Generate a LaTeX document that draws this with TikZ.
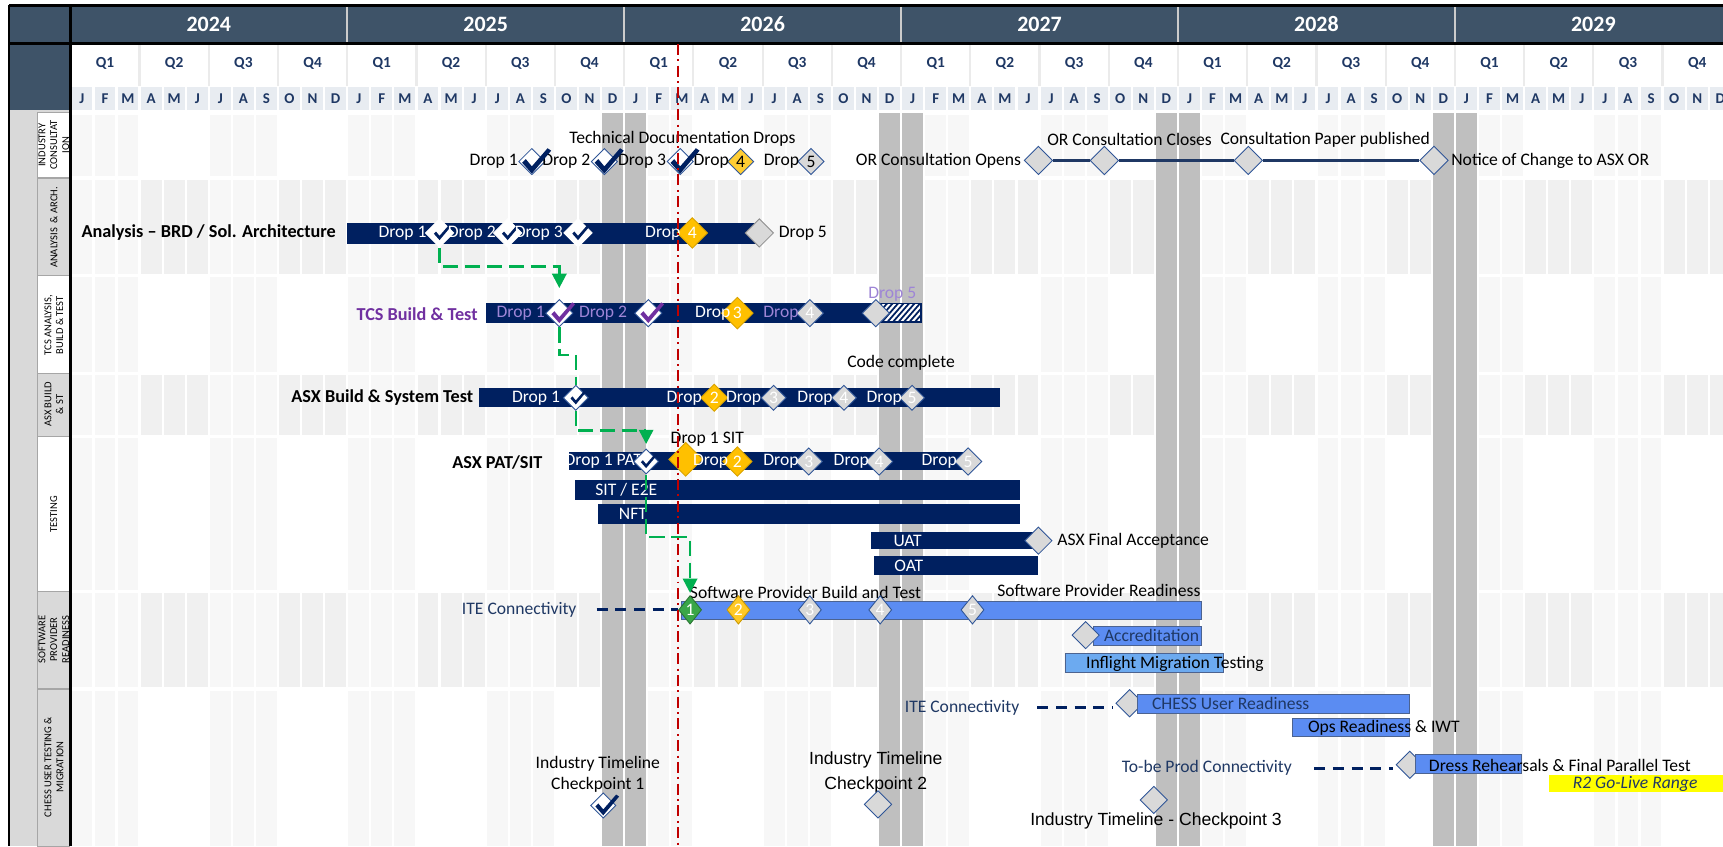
\documentclass[tikz,border=0pt]{standalone}
\usepackage{fontspec}
\setmainfont{Carlito}
\newfontfamily\arialfont{Liberation Sans}
\usetikzlibrary{positioning, arrows.meta, shapes.geometric}

\definecolor{hdrblue}{HTML}{3E5368}
\definecolor{navy}{HTML}{002060}
\definecolor{navytxt}{HTML}{1F3864}
\definecolor{mcell}{HTML}{E8ECF1}
\definecolor{gbar}{HTML}{BFBFBF}
\definecolor{lanebase}{HTML}{F7F7F7}
\definecolor{lanegrey}{HTML}{F0F0F0}
\definecolor{lblgrey}{HTML}{D9D9D9}
\definecolor{cellline}{HTML}{A6A6A6}
\definecolor{msorange}{HTML}{FFC000}
\definecolor{msgrey}{HTML}{D9D9D9}
\definecolor{msline}{HTML}{2F5597}
\definecolor{tcspurple}{HTML}{7030A0}
\definecolor{droplav}{HTML}{9E85D6}
\definecolor{linkgreen}{HTML}{00B050}
\definecolor{msgreen}{HTML}{3AA648}
\definecolor{spblue}{HTML}{5B8CF2}
\definecolor{ifblue}{HTML}{6CAAF0}
\definecolor{todayred}{HTML}{C00000}
\definecolor{golive}{HTML}{FFFF00}

% tick on a milestone: node, colour, scale
\newcommand{\tickmark}[3]{%
  \fill[#2, shift={(#1.center)}, scale=#3] (-8,1) -- (-5,-2) -- (0,4) -- (13,-11) -- (16,-9) -- (0,10) -- cycle;}

\tikzset{
  bodytxt/.style={font=\fontsize{8}{9.6}\selectfont, inner sep=1pt},
  bartxt/.style={bodytxt, text=white},
  lavtxt/.style={bodytxt, text=droplav},
  rowlbl/.style={font=\bfseries\fontsize{8.3}{9.6}\selectfont, anchor=east, inner sep=1pt},
  lanelbl/.style={font=\fontsize{4.8}{5.4}\selectfont, rotate=90, align=center, inner sep=0pt},
  yearlbl/.style={font=\bfseries\fontsize{10}{12}\selectfont, text=white},
  qlbl/.style={font=\bfseries\fontsize{7}{8}\selectfont, text=navytxt},
  mlbl/.style={font=\bfseries\fontsize{6.8}{8}\selectfont, text=navytxt},
  ms/.style={diamond, draw=msline, line width=0.4pt, inner sep=0pt, minimum size=#1, font=\fontsize{8}{9}\selectfont},
  ms/.default=11pt,
  msdone/.style={ms=#1, fill=white},
  msdone/.default=11pt,
  msnext/.style={ms=#1, fill=msorange, draw=msorange!85!black, text=white},
  msnext/.default=12pt,
  msopen/.style={ms=#1, fill=msgrey, text=white},
  msopen/.default=12pt,
  navybar/.style={fill=navy},
  bluebar/.style={fill=spblue, draw=navy!70, line width=0.4pt},
  greenlink/.style={draw=linkgreen, line width=1.1pt, dash pattern=on 7pt off 3pt},
  itelink/.style={draw=navy, line width=1.3pt, dash pattern=on 5pt off 3.5pt},
  qsep/.style={draw=black!8, line width=1pt},
}

\begin{document}
\begin{tikzpicture}[x=0.5pt, y=-0.5pt]
\useasboundingbox (0,0) rectangle (1568,770);
\clip (0,0) rectangle (1568,770);
\fill[white] (0,0) rectangle (1568,770);

% header: years
\fill[hdrblue] (8,5) rectangle (1568,39);
\fill[hdrblue] (8,5) rectangle (64,102);
\foreach \yr [count=\i from 0] in {2024,2025,2026,2027,2028,2029}
  \node[yearlbl] (yr\yr) at (190+252*\i,22) {\yr};
\foreach \i in {1,...,5}
  \draw[black!20, line width=1pt] (64+252*\i,6) -- (64+252*\i,38);

% header: quarters
\foreach \q [evaluate=\q as \qn using {int(mod(\q,4)+1)}] in {0,...,23}{
  \draw[qsep] (64+63*\q,40) -- (64+63*\q,78);
  \node[qlbl] (qtr\q) at (95.5+63*\q,58) {Q\qn};
}

% header: months
\foreach \yy in {0,...,5}{
  \foreach \m [count=\i from 0] in {J,F,M,A,M,J,J,A,S,O,N,D}{
    \pgfmathsetmacro{\mx}{64+252*\yy+21*\i}
    \fill[mcell] (\mx+1,79) rectangle (\mx+20,100);
    \node[mlbl] (mon\yy-\i) at (\mx+10.5,89.5) {\m};
  }
}
\draw[black, line width=1.5pt] (8,5) -- (1568,5);
\draw[black, line width=1.5pt] (8,39.5) -- (1568,39.5);

% swim lanes (quarters alternate)
\fill[lanebase] (64,103) rectangle (1568,770);
\foreach \ya/\yb/\col in {103/162/white, 162/251/lanegrey, 251/340/white,
    340/397/lanegrey, 397/538/white, 538/627/lanegrey, 627/770/white}
  \foreach \q in {1,3,...,23}
    \fill[\col] (64+63*\q,\ya) rectangle (127+63*\q,\yb);
\foreach \i in {0,...,72}
  \draw[white, line width=1pt] (64+21*\i,103) -- (64+21*\i,770);
\foreach \ya in {103,162,251,340,397,538,627}
  \draw[white, line width=1.5pt] (64,\ya) -- (1568,\ya);

% year-end freeze columns
\foreach \m in {23,24,35,36,47,48,59,60}
  \fill[gbar] (64+21*\m+1,103) rectangle (64+21*\m+20,770);

% lane labels
\fill[lblgrey] (8,100) rectangle (64,770);
\foreach \ya/\yb/\col in {102/162/white, 162/251/lblgrey, 251/340/white, 340/397/lblgrey,
    397/538/white, 538/627/lblgrey, 627/770/lblgrey}
  \filldraw[fill=\col, draw=cellline, line width=0.5pt] (34,\ya) rectangle (63,\yb);
\draw[black, line width=1pt] (8,5) -- (8,770);
\draw[black, line width=1.2pt] (64,5) -- (64,770);
\node[lanelbl] (ln1) at (49,132) {INDUSTRY\\CONSULTAT\\ION};
\node[lanelbl] (ln2) at (49,207) {ANALYSIS \ \& ARCH.};
\node[lanelbl] (ln3) at (49,296) {TCS ANALYSIS,\\BUILD \& TEST};
\node[lanelbl] (ln4) at (49,368) {ASX BUILD\\\& ST};
\node[lanelbl] (ln5) at (49,468) {TESTING};
\node[lanelbl] (ln6) at (49,582) {SOFTWARE\\PROVIDER\\READINESS};
\node[lanelbl] (ln7) at (49,698) {CHESS USER TESTING \&\\MIGRATION};

% industry consultation
\node[bodytxt] (tdTitle) at (621,126) {Technical Documentation Drops};
\node[msdone=12pt] (td1) at (484,147) {};
\node[msdone=12pt] (td2) at (550,147) {};
\node[msdone=12pt] (td3) at (619,147) {};
\node[msnext=12pt, draw=msline, text=black, fill=msorange!80] (td4) at (674,147) {4};
\node[msopen=12pt, text=black] (td5) at (738,147) {5};
\node[bodytxt, left=-1pt of td1] (td1l) {Drop 1};
\node[bodytxt, left=-1pt of td2] (td2l) {Drop 2};
\node[bodytxt, left=-1pt of td3] (td3l) {Drop 3};
\node[bodytxt, left=-2pt of td4] (td4l) {Drop};
\node[bodytxt, left=-2pt of td5] (td5l) {Drop};
\tickmark{td1}{navy}{1.1}
\tickmark{td2}{navy}{1.1}
\tickmark{td3}{navy}{1.1}

\node[msopen=13pt] (ocOpen) at (945,146) {};
\node[msopen=13pt] (ocClose) at (1005,146) {};
\node[msopen=13pt] (cpPub) at (1136,146) {};
\node[msopen=13pt] (ncOR) at (1305,146) {};
\draw[navytxt, line width=1.1pt] (ocOpen) -- (ocClose) -- (cpPub) -- (ncOR);
\node[bodytxt, left=0pt of ocOpen] (ocOpenl) {OR Consultation Opens};
\node[bodytxt] (ocClosel) at (1028,127) {OR Consultation Closes};
\node[bodytxt] (cpPubl) at (1206,127) {Consultation Paper published};
\node[bodytxt, right=0pt of ncOR] (ncORl) {Notice of Change to ASX OR};

% analysis & architecture
\node[rowlbl] (anLbl) at (308,212) {Analysis -- BRD / Sol. Architecture};
\fill[navybar] (316,203) rectangle (688,222);
\node[msdone=13pt, draw=white] (an1) at (400,212) {};
\node[msdone=13pt, draw=white] (an2) at (462,212) {};
\node[msdone=13pt, draw=white] (an3) at (526,212) {};
\node[msnext=14pt] (an4) at (630,212) {4};
\node[msopen=13pt, draw=black!45] (an5) at (691,212) {};
\tickmark{an1}{navy}{0.65}
\tickmark{an2}{navy}{0.65}
\tickmark{an3}{navy}{0.65}
\node[bartxt, left=-2pt of an1] (an1l) {Drop 1};
\node[bartxt, left=-2.5pt of an2] (an2l) {Drop 2};
\node[bartxt, left=-1pt of an3] (an3l) {Drop 3};
\node[bartxt, left=-3pt of an4] (an4l) {Drop};
\node[bodytxt, right=1pt of an5] (an5l) {Drop 5};

% TCS build & test
\node[rowlbl, text=tcspurple] (tcLbl) at (437,286) {TCS Build \& Test};
\fill[navybar] (442,276) rectangle (797,294);
\begin{scope}
  \clip (797,276) rectangle (838,293);
  \fill[white] (797,276) rectangle (838,293);
  \foreach \k in {0,...,13}
    \draw[navy, line width=0.8pt] (775+5*\k,296) -- (795+5*\k,273);
\end{scope}
\draw[navy, line width=0.6pt] (797,276) rectangle (838,293);
\node[msdone=12.5pt] (tc1) at (509,285) {};
\node[msdone=12.5pt] (tc2) at (590,285) {};
\node[msnext=14.5pt] (tc3) at (671,285) {3};
\node[msopen=12.5pt] (tc4) at (737,285) {4};
\node[msopen=12.5pt] (tc5) at (797,285) {};
\tickmark{tc1}{tcspurple}{0.9}
\tickmark{tc2}{tcspurple}{0.9}
\node[lavtxt, left=-1pt of tc1] (tc1l) {Drop 1};
\node[lavtxt, left=2pt of tc2] (tc2l) {Drop 2};
\node[bartxt, left=-5.5pt of tc3] (tc3l) {Drop};
\node[lavtxt, left=-2.5pt of tc4] (tc4l) {Drop};
\node[lavtxt] (tc5l) at (812,268) {Drop 5};
\node[bodytxt] (codeDone) at (820,330) {Code complete};

% ASX build & system test
\node[rowlbl] (abLbl) at (433,362) {ASX Build \& System Test};
\fill[navybar] (436,353) rectangle (910,370);
\node[msdone=11.5pt] (ab1) at (524,362) {};
\node[msnext=12.5pt] (ab2) at (650,362) {2};
\node[msopen=11.5pt] (ab3) at (704,362) {3};
\node[msopen=11.5pt] (ab4) at (768,362) {4};
\node[msopen=11.5pt] (ab5) at (830,362) {5};
\tickmark{ab1}{navy}{0.6}
\node[bartxt, left=0pt of ab1] (ab1l) {Drop 1};
\node[bartxt, left=-2pt of ab2] (ab2l) {Drop};
\node[bartxt, left=-1.5pt of ab3] (ab3l) {Drop};
\node[bartxt, left=-2pt of ab4] (ab4l) {Drop};
\node[bartxt, left=-2.5pt of ab5] (ab5l) {Drop};

% testing
\node[bodytxt, anchor=west] (sit1) at (608,400) {Drop 1 SIT};
\node[rowlbl] (ptLbl) at (496,421) {ASX PAT/SIT};
\fill[navybar] (518,411) rectangle (885,428);
\node[bartxt] (pt1l) at (549,420) {Drop 1 PAT};
\node[msdone=11.5pt] (pt1) at (588,420) {};
\node[msnext=15.5pt] (ptBig) at (624,418) {};
\node[msnext=13.5pt] (pt2) at (671,420) {2};
\node[msopen=12.5pt] (pt3) at (736,420) {3};
\node[msopen=12.5pt] (pt4) at (800,420) {4};
\node[msopen=12.5pt] (pt5) at (881,420) {5};
\tickmark{pt1}{navy}{0.6}
\node[bartxt, left=-4pt of pt2] (pt2l) {Drop};
\node[bartxt, left=-3pt of pt3] (pt3l) {Drop};
\node[bartxt, left=-3pt of pt4] (pt4l) {Drop};
\node[bartxt, left=-2.5pt of pt5] (pt5l) {Drop};

\fill[navybar] (523,437) rectangle (928,455);
\node[bartxt] (sitE2E) at (570,446) {SIT / E2E};
\fill[navybar] (544,459) rectangle (928,477);
\node[bartxt] (nft) at (576,468) {NFT};
\fill[navybar] (793,484) rectangle (940,500);
\node[bartxt] (uat) at (826,492) {UAT};
\node[msopen=12.5pt] (ua) at (945,492) {};
\node[bodytxt, right=1pt of ua] (ual) {ASX Final Acceptance};
\fill[navybar] (795,506) rectangle (945,523);
\node[bartxt] (oat) at (827,515) {OAT};

% software provider readiness
\node[bodytxt] (spBuild) at (733,539) {Software Provider Build and Test};
\node[bodytxt] (spReady) at (1000,537) {Software Provider Readiness};
\node[bodytxt, text=navytxt, anchor=east] (iteA) at (527,555) {ITE Connectivity};
\draw[bluebar] (620,547) rectangle (1093,564);
\node[ms, minimum width=10.5pt, minimum height=13pt, fill=msgreen, draw=msgreen!70!black, text=white] (sp1) at (628,555) {1};
\node[ms, minimum width=10.5pt, minimum height=13pt, fill=msorange!85, draw=msorange!80!black, text=white] (sp2) at (672,555) {2};
\node[msopen, minimum width=10.5pt, minimum height=13pt] (sp3) at (737,555) {3};
\node[msopen, minimum width=10.5pt, minimum height=13pt] (sp4) at (801,555) {4};
\node[msopen, minimum width=10.5pt, minimum height=13pt] (sp5) at (885,555) {5};
\draw[itelink, shorten <=8pt] (iteA.east) -- (sp1.west);

\draw[bluebar] (995,570) rectangle (1093,587);
\node[msopen=12.5pt] (acc) at (988,578) {};
\node[bodytxt, text=navytxt] (accl) at (1048,578) {Accreditation};
\draw[bluebar, fill=ifblue] (970,595) rectangle (1113,612);
\node[bodytxt, anchor=west] (ifl) at (986,604) {Inflight Migration Testing};

% CHESS user testing & migration
\node[bodytxt, text=navytxt, anchor=east] (iteB) at (930,644) {ITE Connectivity};
\node[msopen=12.5pt] (cu) at (1028,640) {};
\draw[bluebar] (1035,632) rectangle (1283,649);
\node[bodytxt, text=navytxt, anchor=west] (cul) at (1046,640) {CHESS User Readiness};
\draw[itelink, shorten <=7pt, shorten >=1pt] (iteB.east) -- (iteB.east -| cu.west);

\draw[bluebar] (1176,654) rectangle (1283,670);
\node[bodytxt, anchor=west] (opsl) at (1188,662) {Ops Readiness \& IWT};

\node[bodytxt, text=navytxt, anchor=east] (tbp) at (1178,699) {To-be Prod Connectivity};
\node[msopen=12.5pt] (dr) at (1283,696) {};
\draw[bluebar] (1288,687) rectangle (1385,704);
\node[bodytxt, anchor=west] (drl) at (1298,697) {Dress Rehearsals \& Final Parallel Test};
\draw[itelink, shorten <=9pt, shorten >=1pt] (tbp.east) -- (tbp.east -| dr.west);

\fill[golive] (1410,705) rectangle (1568,721);
\node[bodytxt, text=navytxt, font=\itshape\fontsize{8}{9.6}\selectfont] (goLive) at (1488,713) {R2 Go-Live Range};

\node[bodytxt, align=center] (ck1l) at (544,705) {Industry Timeline\\Checkpoint 1};
\node[msdone=11.5pt] (ck1) at (549,733) {};
\tickmark{ck1}{navy}{0.9}
\node[bodytxt, align=center, font=\arialfont\fontsize{8}{11}\selectfont] (ck2l) at (797,703) {Industry Timeline\\Checkpoint 2};
\node[msopen=12.5pt] (ck2) at (799,732) {};
\node[msopen=12.5pt] (ck3) at (1050,728) {};
\node[bodytxt, font=\arialfont\fontsize{8}{9.6}\selectfont] (ck3l) at (1052,747) {Industry Timeline - Checkpoint 3};

% dependencies
\draw[greenlink, -{Triangle[width=6.5pt,length=6.5pt]}, shorten >=5pt] (an1.south) -- ++(0,17) -| (tc1.north);
\draw[greenlink] (tc1.south) -- ++(0,25) -| (ab1.north);
\draw[greenlink, -{Triangle[width=6.5pt,length=6.5pt]}, shorten >=2pt] (ab1.south) -- ++(0,18) -| (pt1.north);
\draw[greenlink, -{Triangle[width=6.5pt,length=6.5pt]}, shorten >=1pt] (pt1.south) -- ++(0,57) -| (sp1.north);

% today
\draw[todayred, line width=0.9pt, dash pattern=on 5pt off 2pt on 0.9pt off 2pt] (617,40) -- (617,770);
\end{tikzpicture}
\end{document}
